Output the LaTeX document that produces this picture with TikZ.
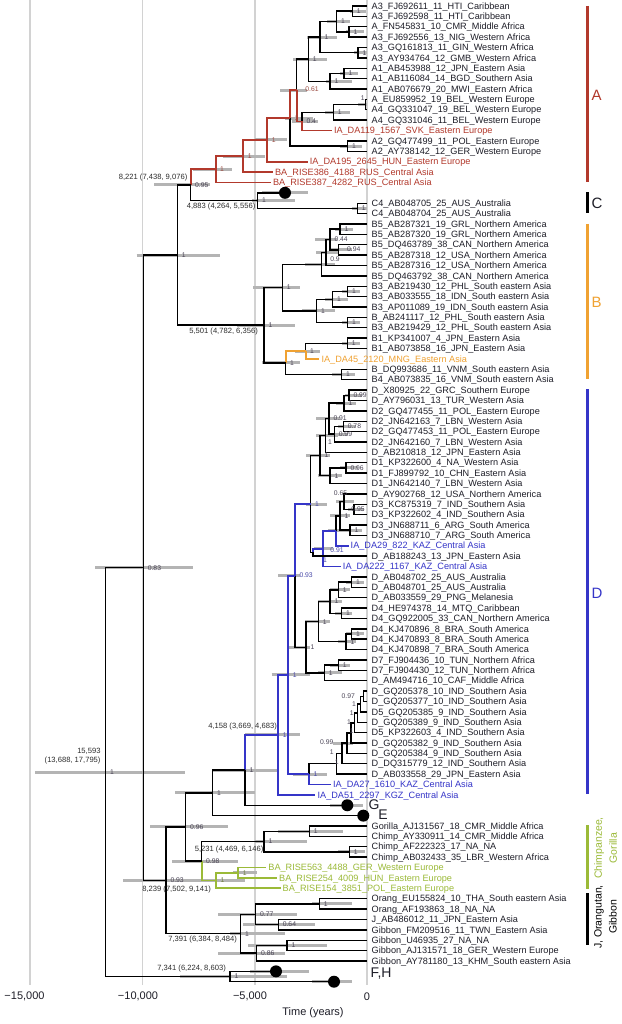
\documentclass[tikz,border=0pt]{standalone}
\usepackage{fontspec}
\setmainfont{Liberation Sans}
\usetikzlibrary{calc}
\definecolor{cRed}{HTML}{B2392C}
\definecolor{cOrange}{HTML}{F0A232}
\definecolor{cBlue}{HTML}{3535C8}
\definecolor{cGreen}{HTML}{9BBA38}
\definecolor{barGray}{HTML}{B4B4B4}
\definecolor{gridGray}{HTML}{D2D2D2}
\definecolor{tipText}{HTML}{1E1E28}
\definecolor{supCol}{HTML}{4A4456}
\definecolor{supRed}{HTML}{9A4A40}
\definecolor{supBlue}{HTML}{4848A8}
\definecolor{supGreen}{HTML}{6E7E40}
\definecolor{ageCol}{HTML}{2C2C2C}
\newcommand{\tipfnt}{\fontsize{9.15}{10}\selectfont}
\newcommand{\supfnt}{\fontsize{6.8}{7}\selectfont}
\newcommand{\agefnt}{\fontsize{7.6}{9}\selectfont}
\newcounter{lbl}
\newcommand{\mknode}[4]{\path (#3) -- (#4) coordinate[pos=0.5] (m#1);\path let \p1=(m#1) in (#2pt,\y1) coordinate (#1);}
\newcommand{\kids}[5]{\draw[#1] (#3) |- (#4);\draw[#2] (#3) |- (#5);}
\newcommand{\hpd}[3]{\draw[hpdbar] let \p1=(#1) in (#2pt,\y1) -- (#3pt,\y1);}
\newcommand{\slab}[3][supCol]{\stepcounter{lbl}\node[suplab,text=#1] (s\thelbl) at ([xshift=4pt]#2) {#3};}
\newcommand{\slabat}[4][supCol]{\stepcounter{lbl}\node[suplab,text=#1,anchor=center] (s\thelbl) at (#2,#3) {#4};}
\newcommand{\tipL}[2]{\node[tiplab] (L#1) at ([xshift=4.5pt,yshift=-3.2pt]t#1) {#2};}
\newcommand{\ancL}[3]{\node[tiplab, text=#2] (L#1) at ([xshift=2pt,yshift=-3.2pt]t#1) {#3};}
\begin{document}
\begin{tikzpicture}[x=1pt,y=-1pt,
  declare function={rowy(\n)=6+10.38*\n; agex(\a)=367-0.02246*\a;},
  br/.style={line width=1.4pt, draw=black},
  brR/.style={line width=1.8pt, draw=cRed},
  brO/.style={line width=1.8pt, draw=cOrange},
  brB/.style={line width=1.8pt, draw=cBlue},
  brG/.style={line width=1.8pt, draw=cGreen},
  hpdbar/.style={line width=3pt, draw=barGray},
  gridln/.style={line width=1.8pt, draw=gridGray},
  cladebar/.style={line width=3.5pt},
  tiplab/.style={anchor=base west, inner sep=0pt, font=\tipfnt, text=tipText},
  suplab/.style={anchor=west, inner sep=0.3pt, font=\supfnt},
  agelab/.style={inner sep=0pt, font=\agefnt, text=ageCol, anchor=east},
  dotst/.style={circle, fill=black, inner sep=0pt, minimum size=12pt},
  bigl/.style={inner sep=0pt, font=\fontsize{14}{16}\selectfont, text=tipText},
  cladel/.style={inner sep=0pt, anchor=west, font=\fontsize{15}{17}\selectfont},
  rotl/.style={inner sep=0pt, rotate=90, align=center, font=\fontsize{10.5}{15}\selectfont},
  axl/.style={inner sep=0pt, font=\fontsize{11}{13}\selectfont, text=tipText}]
\fill[white] (0,0) rectangle (621,1024);
\useasboundingbox (0,0) rectangle (621,1024);
% grid
\foreach \gx in {30.1,142.4,254.7,367} \draw[gridln] (\gx,0) -- (\gx,985);
% tips
\foreach \i in {0,...,11} \coordinate (t\i) at (367,{rowy(\i)});
\foreach \i in {13,14} \coordinate (t\i) at (367,{rowy(\i)});
\foreach \i in {19,...,33} \coordinate (t\i) at (367,{rowy(\i)});
\foreach \i in {35,...,51} \coordinate (t\i) at (367,{rowy(\i)});
\coordinate (t53) at (367,{rowy(53)});
\foreach \i in {55,...,74} \coordinate (t\i) at (367,{rowy(\i)});
\foreach \i in {79,...,82} \coordinate (t\i) at (367,{rowy(\i)});
\foreach \i in {86,...,92} \coordinate (t\i) at (367,{rowy(\i)});
\coordinate (t12) at ({agex(1567)},{rowy(12)});
\coordinate (t15) at ({agex(2645)},{rowy(15)});
\coordinate (t16) at ({agex(4188)},{rowy(16)});
\coordinate (t17) at ({agex(4282)},{rowy(17)});
\coordinate (t18) at (285,{rowy(18)});
\coordinate (t34) at ({agex(2120)},{rowy(34)});
\coordinate (t52) at ({agex(822)},{rowy(52)});
\coordinate (t54) at ({agex(1167)},{rowy(54)});
\coordinate (t75) at ({agex(1610)},{rowy(75)});
\coordinate (t76) at ({agex(2297)},{rowy(76)});
\coordinate (t77) at (347.3,{rowy(77)});
\coordinate (t78) at (363.3,{rowy(78)});
\coordinate (t83) at ({agex(4488)},{rowy(83)});
\coordinate (t84) at ({agex(4009)},{rowy(84)});
\coordinate (t85) at ({agex(3851)},{rowy(85)});
\coordinate (t93) at (276,{rowy(93)});
\coordinate (t94) at (334,{rowy(94)});
% internal nodes: A, C
\mknode{a01}{352.3}{t0}{t1}
\mknode{a23}{349}{t2}{t3}
\mknode{a03}{336.7}{a01}{a23}
\mknode{a45}{358}{t4}{t5}
\mknode{a05}{320}{a03}{a45}
\mknode{a67}{344}{t6}{t7}
\mknode{a68}{330}{a67}{t8}
\mknode{a08}{308.3}{a05}{a68}
\mknode{a910}{365.7}{t9}{t10}
\mknode{a911}{333.3}{a910}{t11}
\mknode{a04}{302}{a911}{t12}
\mknode{a061}{296.7}{a08}{a04}
\mknode{aA2}{347.7}{t13}{t14}
\mknode{aQ}{290}{a061}{aA2}
\mknode{a267}{267.3}{aQ}{t15}
\mknode{a243}{243.3}{a267}{t16}
\mknode{aR}{215.7}{a243}{t17}
\mknode{c45}{357.3}{t19}{t20}
\mknode{cN}{257.7}{t18}{c45}
\mknode{n095}{190.7}{aR}{cN}
% B
\mknode{b2122}{340}{t21}{t22}
\mknode{b2324}{338.3}{t23}{t24}
\mknode{b044}{330}{b2122}{b2324}
\mknode{b09}{326}{b044}{t25}
\mknode{b5}{321.7}{b09}{t26}
\mknode{b2728}{347.7}{t27}{t28}
\mknode{b2729}{332.7}{b2728}{t29}
\mknode{b3031}{347.7}{t30}{t31}
\mknode{b3}{316.7}{b2729}{b3031}
\mknode{b53}{282.3}{b5}{b3}
\mknode{b1}{347.3}{t32}{t33}
\mknode{bDA}{305.7}{b1}{t34}
\mknode{b4}{341.7}{t35}{t36}
\mknode{b14}{285.7}{bDA}{b4}
\mknode{bB}{264}{b53}{b14}
\mknode{n1}{177.3}{n095}{bB}
% D
\mknode{d3738}{349}{t37}{t38}
\mknode{d3739}{344}{d3738}{t39}
\mknode{d4041}{343.3}{t40}{t41}
\mknode{d4042}{334.3}{d4041}{t42}
\mknode{d091}{329}{d3739}{d4042}
\mknode{d0943}{325.5}{d091}{t43}
\mknode{d4445}{346}{t44}{t45}
\mknode{d4446}{330}{d4445}{t46}
\mknode{dD12}{320}{d0943}{d4446}
\mknode{d4849}{354}{t48}{t49}
\mknode{d4749}{344}{t47}{d4849}
\mknode{d5051}{350}{t50}{t51}
\mknode{d4751}{340}{d4749}{d5051}
\mknode{dDA29}{336}{d4751}{t52}
\mknode{dX}{323.3}{dDA29}{t54}
\mknode{dY}{313}{dX}{t53}
\mknode{dG}{310.7}{dD12}{dY}
\mknode{d5556}{351.7}{t55}{t56}
\mknode{d5557}{338.3}{d5556}{t57}
\mknode{d5859}{341.7}{t58}{t59}
\mknode{d5559}{330}{d5557}{d5859}
\mknode{d6061}{351.7}{t60}{t61}
\mknode{d6062}{346}{d6061}{t62}
\mknode{dD4}{318.3}{d5559}{d6062}
\mknode{d6364}{338.3}{t63}{t64}
\mknode{d6365}{324.3}{d6364}{t65}
\mknode{dD47}{306}{dD4}{d6365}
\mknode{d093}{295}{dG}{dD47}
\mknode{d6667}{363.5}{t66}{t67}
\mknode{d6668}{360.5}{d6667}{t68}
\mknode{d6669}{357.5}{d6668}{t69}
\mknode{d6670}{354.5}{d6669}{t70}
\mknode{d6671}{351}{d6670}{t71}
\mknode{d6672}{347}{d6671}{t72}
\mknode{d6673}{342}{d6672}{t73}
\mknode{d6674}{336.5}{d6673}{t74}
\mknode{dD5A}{309}{d6674}{t75}
\mknode{dDA27}{288.3}{d093}{dD5A}
\mknode{dRoot}{278.3}{dDA27}{t76}
\mknode{dDG}{245}{dRoot}{t77}
\mknode{n2127}{212.7}{dDG}{t78}
% lower
\mknode{gc1}{309.3}{t79}{t80}
\mknode{gc2}{349.3}{t81}{t82}
\mknode{gc}{264}{gc1}{gc2}
\mknode{g1}{238.3}{t83}{t84}
\mknode{g2}{216}{g1}{t85}
\mknode{n098}{201.7}{gc}{g2}
\mknode{n096}{185.7}{n2127}{n098}
\mknode{o1}{319.3}{t86}{t87}
\mknode{o2}{278.3}{t88}{t89}
\mknode{o077}{255.7}{o1}{o2}
\mknode{o3}{287}{t90}{t91}
\mknode{o086}{256.7}{o3}{t92}
\mknode{og}{240.7}{o077}{o086}
\mknode{n093b}{166}{n096}{og}
\mknode{n083}{143.3}{n1}{n093b}
\mknode{fh}{230}{t93}{t94}
\mknode{root}{105.7}{n083}{fh}
% HPD bars
\hpd{a01}{350}{366}\hpd{a23}{346}{364}\hpd{a03}{327}{350}\hpd{a45}{354}{367}
\hpd{a05}{307}{337}\hpd{a67}{340}{358}\hpd{a68}{326}{352}\hpd{a08}{293}{327}
\hpd{a910}{358}{367}\hpd{a911}{325}{350}\hpd{a04}{292}{318}\hpd{a061}{280}{307}
\hpd{aA2}{340}{362}\hpd{aQ}{285}{313}\hpd{a267}{255}{287}\hpd{a243}{223}{265}
\hpd{aR}{193}{232}\hpd{c45}{352}{367}\hpd{cN}{252}{295}\hpd{n095}{154}{210}
\hpd{t18}{262}{308}
\hpd{b2122}{335}{353}\hpd{b2324}{330}{352}\hpd{b044}{315}{337}\hpd{b09}{316}{338}
\hpd{b5}{305}{335}\hpd{b2728}{342}{360}\hpd{b2729}{325}{348}\hpd{b3031}{342}{360}
\hpd{b3}{302}{335}\hpd{b53}{253}{300}\hpd{b1}{342}{360}\hpd{bDA}{295}{320}
\hpd{b4}{332}{355}\hpd{b14}{262}{300}\hpd{bB}{236.7}{295}\hpd{n1}{136.7}{220}
\hpd{d3738}{345}{362}\hpd{d3739}{336}{356}\hpd{d4041}{338}{356}\hpd{d4042}{328}{348}
\hpd{d091}{316}{340}\hpd{d0943}{316}{338}\hpd{d4445}{340}{358}\hpd{d4446}{318}{342}
\hpd{dD12}{306}{330}\hpd{d4849}{348}{364}\hpd{d4749}{336}{354}\hpd{d5051}{344}{362}
\hpd{d4751}{330}{350}\hpd{dDA29}{328}{345}\hpd{dX}{314}{333}\hpd{dG}{306}{327}
\hpd{d5556}{346}{364}\hpd{d5557}{330}{350}\hpd{d5859}{335}{352}\hpd{d5559}{318}{342}
\hpd{d6061}{346}{364}\hpd{d6062}{338}{356}\hpd{dD4}{305}{330}\hpd{d6364}{330}{350}
\hpd{d6365}{318}{342}\hpd{dD47}{288}{310}\hpd{d093}{278}{300}\hpd{d6672}{333}{353}
\hpd{dD5A}{293}{327}\hpd{dDA27}{271.7}{310}\hpd{dRoot}{245}{300}\hpd{dDG}{213}{278}
\hpd{t77}{330}{363}\hpd{n2127}{175}{255}
\hpd{gc1}{278}{343}\hpd{gc2}{338}{365}\hpd{gc}{255}{307}\hpd{g1}{233}{257}
\hpd{g2}{190}{245}\hpd{n098}{172}{238}\hpd{n096}{150}{228}\hpd{o1}{312}{352}
\hpd{o2}{243}{315}\hpd{o077}{218}{297}\hpd{o3}{248}{327}\hpd{o086}{218}{285}
\hpd{og}{230}{285}\hpd{n093b}{123}{190}\hpd{n083}{95}{193.3}\hpd{fh}{180}{287}
\hpd{t93}{250}{309}\hpd{t94}{312}{352}\hpd{root}{35}{185}
% edges A, C
\kids{br}{br}{a01}{t0}{t1}
\kids{br}{br}{a23}{t2}{t3}
\kids{br}{br}{a03}{a01}{a23}
\kids{br}{br}{a45}{t4}{t5}
\kids{br}{br}{a05}{a03}{a45}
\kids{br}{br}{a67}{t6}{t7}
\kids{br}{br}{a68}{a67}{t8}
\kids{br}{br}{a08}{a05}{a68}
\kids{br}{br}{a910}{t9}{t10}
\kids{br}{br}{a911}{a910}{t11}
\kids{br}{brR}{a04}{a911}{t12}
\kids{br}{brR}{a061}{a08}{a04}
\kids{br}{br}{aA2}{t13}{t14}
\kids{brR}{br}{aQ}{a061}{aA2}
\kids{brR}{brR}{a267}{aQ}{t15}
\kids{brR}{brR}{a243}{a267}{t16}
\kids{brR}{brR}{aR}{a243}{t17}
\kids{br}{br}{c45}{t19}{t20}
\kids{br}{br}{cN}{t18}{c45}
\kids{brR}{br}{n095}{aR}{cN}
% B
\kids{br}{br}{b2122}{t21}{t22}
\kids{br}{br}{b2324}{t23}{t24}
\kids{br}{br}{b044}{b2122}{b2324}
\kids{br}{br}{b09}{b044}{t25}
\kids{br}{br}{b5}{b09}{t26}
\kids{br}{br}{b2728}{t27}{t28}
\kids{br}{br}{b2729}{b2728}{t29}
\kids{br}{br}{b3031}{t30}{t31}
\kids{br}{br}{b3}{b2729}{b3031}
\kids{br}{br}{b53}{b5}{b3}
\kids{br}{br}{b1}{t32}{t33}
\kids{br}{brO}{bDA}{b1}{t34}
\kids{br}{br}{b4}{t35}{t36}
\kids{brO}{br}{b14}{bDA}{b4}
\kids{br}{br}{bB}{b53}{b14}
\kids{br}{br}{n1}{n095}{bB}
% D
\kids{br}{br}{d3738}{t37}{t38}
\kids{br}{br}{d3739}{d3738}{t39}
\kids{br}{br}{d4041}{t40}{t41}
\kids{br}{br}{d4042}{d4041}{t42}
\kids{br}{br}{d091}{d3739}{d4042}
\kids{br}{br}{d0943}{d091}{t43}
\kids{br}{br}{d4445}{t44}{t45}
\kids{br}{br}{d4446}{d4445}{t46}
\kids{br}{br}{dD12}{d0943}{d4446}
\kids{br}{br}{d4849}{t48}{t49}
\kids{br}{br}{d4749}{t47}{d4849}
\kids{br}{br}{d5051}{t50}{t51}
\kids{br}{br}{d4751}{d4749}{d5051}
\kids{br}{brB}{dDA29}{d4751}{t52}
\kids{brB}{brB}{dX}{dDA29}{t54}
\kids{brB}{br}{dY}{dX}{t53}
\kids{br}{br}{dG}{dD12}{dY}
\kids{br}{br}{d5556}{t55}{t56}
\kids{br}{br}{d5557}{d5556}{t57}
\kids{br}{br}{d5859}{t58}{t59}
\kids{br}{br}{d5559}{d5557}{d5859}
\kids{br}{br}{d6061}{t60}{t61}
\kids{br}{br}{d6062}{d6061}{t62}
\kids{br}{br}{dD4}{d5559}{d6062}
\kids{br}{br}{d6364}{t63}{t64}
\kids{br}{br}{d6365}{d6364}{t65}
\kids{br}{br}{dD47}{dD4}{d6365}
\kids{brB}{br}{d093}{dG}{dD47}
\kids{br}{br}{d6667}{t66}{t67}
\kids{br}{br}{d6668}{d6667}{t68}
\kids{br}{br}{d6669}{d6668}{t69}
\kids{br}{br}{d6670}{d6669}{t70}
\kids{br}{br}{d6671}{d6670}{t71}
\kids{br}{br}{d6672}{d6671}{t72}
\kids{br}{br}{d6673}{d6672}{t73}
\kids{br}{br}{d6674}{d6673}{t74}
\kids{br}{brB}{dD5A}{d6674}{t75}
\kids{brB}{brB}{dDA27}{d093}{dD5A}
\kids{brB}{brB}{dRoot}{dDA27}{t76}
\kids{brB}{br}{dDG}{dRoot}{t77}
\kids{br}{br}{n2127}{dDG}{t78}
% lower
\kids{br}{br}{gc1}{t79}{t80}
\kids{br}{br}{gc2}{t81}{t82}
\kids{br}{br}{gc}{gc1}{gc2}
\kids{brG}{brG}{g1}{t83}{t84}
\kids{brG}{brG}{g2}{g1}{t85}
\kids{br}{brG}{n098}{gc}{g2}
\kids{br}{br}{n096}{n2127}{n098}
\kids{br}{br}{o1}{t86}{t87}
\kids{br}{br}{o2}{t88}{t89}
\kids{br}{br}{o077}{o1}{o2}
\kids{br}{br}{o3}{t90}{t91}
\kids{br}{br}{o086}{o3}{t92}
\kids{br}{br}{og}{o077}{o086}
\kids{br}{br}{n093b}{n096}{og}
\kids{br}{br}{n083}{n1}{n093b}
\kids{br}{br}{fh}{t93}{t94}
\kids{br}{br}{root}{n083}{fh}
% dots
\node[dotst] (dotC) at (t18) {};
\node[dotst] (dotG) at (t77) {};
\node[dotst] (dotE) at (t78) {};
\node[dotst] (dotF) at (t93) {};
\node[dotst] (dotH) at (t94) {};
\node[bigl] (labG) at (374,805) {G};
\node[bigl] (labE) at (383,815) {E};
\node[bigl] (labFH) at (381,974) {F,H};
% support labels
\slab{a01}{1}\slab{a23}{1}\slab{a03}{1}\slab{a45}{1}\slab{a05}{1}\slab{a67}{1}\slab{a68}{1}\slab{a08}{1}
\slabat{362.7}{98}{1}\slab{a911}{1}\slab{a04}{0.4}\slabat[supRed]{312}{89.5}{0.61}\slab{aA2}{1}
\slab[supRed]{aQ}{1}\slab[supRed]{a267}{1}\slab[supRed]{a243}{1}\slab[supRed]{aR}{1}
\slab{c45}{1}\slab{cN}{1}\slab{n095}{0.95}\slab{n1}{1}
\slab{b2122}{1}\slabat{353.8}{249.3}{0.94}\slab{b044}{0.44}\slabat{335}{259}{0.9}
\slab{b2728}{1}\slab{b2729}{1}\slab{b3031}{1}\slab{b3}{1}\slab{b53}{1}\slab{b1}{1}
\slab{bDA}{1}\slab{b4}{1}\slab{b14}{1}\slab{bB}{1}
\slab{d3738}{0.99}\slab{d3739}{1}\slab{d4041}{0.78}\slab{d4042}{0.99}\slab{d091}{0.91}
\slabat{330}{441.7}{1}\slab{d4445}{0.96}\slab{d4446}{1}\slab{dD12}{1}
\slabat{340.5}{493.5}{0.65}\slabat{358}{509}{0.95}\slab{d5051}{1}\slab{d4751}{1}
\slabat[supBlue]{337}{550}{0.91}\slabat[supBlue]{325}{560}{1}\slab[supBlue]{dG}{1}
\slab{d5556}{1}\slab{d5557}{1}\slab{d5859}{1}\slab{d5559}{1}\slab{d6061}{1}\slab{d6062}{1}
\slab{dD4}{1}\slab{d6364}{1}\slab{d6365}{1}\slab{dD47}{1}\slab[supBlue]{d093}{0.93}
\slabat{348.3}{695.7}{0.97}\slabat{354}{704.3}{1}\slabat{351.7}{712.7}{1}\slabat{349}{721.7}{1}
\slabat{351.7}{730.7}{1}\slabat{326.7}{741.7}{0.99}\slabat{331.7}{751.7}{1}\slabat{336.7}{761.7}{1}
\slab[supBlue]{dD5A}{1}\slab[supBlue]{dDA27}{1}\slab[supBlue]{dRoot}{1}\slab{dDG}{1}\slab{n2127}{1}
\slab{gc1}{1}\slab{gc2}{1}\slab{gc}{1}\slab[supGreen]{g1}{1}\slab[supGreen]{g2}{1}
\slab{n098}{0.98}\slab{n096}{0.96}\slab{o1}{1}\slab{o2}{0.64}\slab{o077}{0.77}\slab{o3}{1}
\slab{o086}{0.86}\slab{og}{1}\slab{n093b}{0.93}\slab{n083}{0.83}\slab{fh}{1}\slab{root}{1}
% age labels
\node[agelab] (age1) at (187.5,177.3) {8,221 (7,438, 9,076)};
\node[agelab] (age2) at (255.5,206.7) {4,883 (4,264, 5,556)};
\node[agelab] (age3) at (258,331.7) {5,501 (4,782, 6,356)};
\node[agelab] (age4) at (277,726.7) {4,158 (3,669, 4,683)};
\node[agelab] (age5) at (100.7,751) {15,593};
\node[agelab] (age6) at (100.7,760.7) {(13,688, 17,795)};
\node[agelab] (age7) at (263.5,850) {5,231 (4,469, 6,146)};
\node[agelab] (age8) at (211,889.3) {8,239 (7,502, 9,141)};
\node[agelab] (age9) at (237,940) {7,391 (6,384, 8,484)};
\node[agelab] (age10) at (226,968.3) {7,341 (6,224, 8,603)};
% tip labels
\tipL{0}{A3\_FJ692611\_11\_HTI\_Caribbean}
\tipL{1}{A3\_FJ692598\_11\_HTI\_Caribbean}
\tipL{2}{A\_FN545831\_10\_CMR\_Middle Africa}
\tipL{3}{A3\_FJ692556\_13\_NIG\_Western Africa}
\tipL{4}{A3\_GQ161813\_11\_GIN\_Western Africa}
\tipL{5}{A3\_AY934764\_12\_GMB\_Western Africa}
\tipL{6}{A1\_AB453988\_12\_JPN\_Eastern Asia}
\tipL{7}{A1\_AB116084\_14\_BGD\_Southern Asia}
\tipL{8}{A1\_AB076679\_20\_MWI\_Eastern Africa}
\tipL{9}{A\_EU859952\_19\_BEL\_Western Europe}
\tipL{10}{A4\_GQ331047\_19\_BEL\_Western Europe}
\tipL{11}{A4\_GQ331046\_11\_BEL\_Western Europe}
\ancL{12}{cRed}{IA\_DA119\_1567\_SVK\_Eastern Europe}
\tipL{13}{A2\_GQ477499\_11\_POL\_Eastern Europe}
\tipL{14}{A2\_AY738142\_12\_GER\_Western Europe}
\ancL{15}{cRed}{IA\_DA195\_2645\_HUN\_Eastern Europe}
\ancL{16}{cRed}{BA\_RISE386\_4188\_RUS\_Central Asia}
\ancL{17}{cRed}{BA\_RISE387\_4282\_RUS\_Central Asia}
\tipL{19}{C4\_AB048705\_25\_AUS\_Australia}
\tipL{20}{C4\_AB048704\_25\_AUS\_Australia}
\tipL{21}{B5\_AB287321\_19\_GRL\_Northern America}
\tipL{22}{B5\_AB287320\_19\_GRL\_Northern America}
\tipL{23}{B5\_DQ463789\_38\_CAN\_Northern America}
\tipL{24}{B5\_AB287318\_12\_USA\_Northern America}
\tipL{25}{B5\_AB287316\_12\_USA\_Northern America}
\tipL{26}{B5\_DQ463792\_38\_CAN\_Northern America}
\tipL{27}{B3\_AB219430\_12\_PHL\_South eastern Asia}
\tipL{28}{B3\_AB033555\_18\_IDN\_South eastern Asia}
\tipL{29}{B3\_AP011089\_19\_IDN\_South eastern Asia}
\tipL{30}{B\_AB241117\_12\_PHL\_South eastern Asia}
\tipL{31}{B3\_AB219429\_12\_PHL\_South eastern Asia}
\tipL{32}{B1\_KP341007\_4\_JPN\_Eastern Asia}
\tipL{33}{B1\_AB073858\_16\_JPN\_Eastern Asia}
\ancL{34}{cOrange}{IA\_DA45\_2120\_MNG\_Eastern Asia}
\tipL{35}{B\_DQ993686\_11\_VNM\_South eastern Asia}
\tipL{36}{B4\_AB073835\_16\_VNM\_South eastern Asia}
\tipL{37}{D\_X80925\_22\_GRC\_Southern Europe}
\tipL{38}{D\_AY796031\_13\_TUR\_Western Asia}
\tipL{39}{D2\_GQ477455\_11\_POL\_Eastern Europe}
\tipL{40}{D2\_JN642163\_7\_LBN\_Western Asia}
\tipL{41}{D2\_GQ477453\_11\_POL\_Eastern Europe}
\tipL{42}{D2\_JN642160\_7\_LBN\_Western Asia}
\tipL{43}{D\_AB210818\_12\_JPN\_Eastern Asia}
\tipL{44}{D1\_KP322600\_4\_NA\_Western Asia}
\tipL{45}{D1\_FJ899792\_10\_CHN\_Eastern Asia}
\tipL{46}{D1\_JN642140\_7\_LBN\_Western Asia}
\tipL{47}{D\_AY902768\_12\_USA\_Northern America}
\tipL{48}{D3\_KC875319\_7\_IND\_Southern Asia}
\tipL{49}{D3\_KP322602\_4\_IND\_Southern Asia}
\tipL{50}{D3\_JN688711\_6\_ARG\_South America}
\tipL{51}{D3\_JN688710\_7\_ARG\_South America}
\ancL{52}{cBlue}{IA\_DA29\_822\_KAZ\_Central Asia}
\tipL{53}{D\_AB188243\_13\_JPN\_Eastern Asia}
\ancL{54}{cBlue}{IA\_DA222\_1167\_KAZ\_Central Asia}
\tipL{55}{D\_AB048702\_25\_AUS\_Australia}
\tipL{56}{D\_AB048701\_25\_AUS\_Australia}
\tipL{57}{D\_AB033559\_29\_PNG\_Melanesia}
\tipL{58}{D4\_HE974378\_14\_MTQ\_Caribbean}
\tipL{59}{D4\_GQ922005\_33\_CAN\_Northern America}
\tipL{60}{D4\_KJ470896\_8\_BRA\_South America}
\tipL{61}{D4\_KJ470893\_8\_BRA\_South America}
\tipL{62}{D4\_KJ470898\_7\_BRA\_South America}
\tipL{63}{D7\_FJ904436\_10\_TUN\_Northern Africa}
\tipL{64}{D7\_FJ904430\_12\_TUN\_Northern Africa}
\tipL{65}{D\_AM494716\_10\_CAF\_Middle Africa}
\tipL{66}{D\_GQ205378\_10\_IND\_Southern Asia}
\tipL{67}{D\_GQ205377\_10\_IND\_Southern Asia}
\tipL{68}{D5\_GQ205385\_9\_IND\_Southern Asia}
\tipL{69}{D\_GQ205389\_9\_IND\_Southern Asia}
\tipL{70}{D5\_KP322603\_4\_IND\_Southern Asia}
\tipL{71}{D\_GQ205382\_9\_IND\_Southern Asia}
\tipL{72}{D\_GQ205384\_9\_IND\_Southern Asia}
\tipL{73}{D\_DQ315779\_12\_IND\_Southern Asia}
\tipL{74}{D\_AB033558\_29\_JPN\_Eastern Asia}
\ancL{75}{cBlue}{IA\_DA27\_1610\_KAZ\_Central Asia}
\ancL{76}{cBlue}{IA\_DA51\_2297\_KGZ\_Central Asia}
\tipL{79}{Gorilla\_AJ131567\_18\_CMR\_Middle Africa}
\tipL{80}{Chimp\_AY330911\_14\_CMR\_Middle Africa}
\tipL{81}{Chimp\_AF222323\_17\_NA\_NA}
\tipL{82}{Chimp\_AB032433\_35\_LBR\_Western Africa}
\ancL{83}{cGreen}{BA\_RISE563\_4488\_GER\_Western Europe}
\ancL{84}{cGreen}{BA\_RISE254\_4009\_HUN\_Eastern Europe}
\ancL{85}{cGreen}{BA\_RISE154\_3851\_POL\_Eastern Europe}
\tipL{86}{Orang\_EU155824\_10\_THA\_South eastern Asia}
\tipL{87}{Orang\_AF193863\_18\_NA\_NA}
\tipL{88}{J\_AB486012\_11\_JPN\_Eastern Asia}
\tipL{89}{Gibbon\_FM209516\_11\_TWN\_Eastern Asia}
\tipL{90}{Gibbon\_U46935\_27\_NA\_NA}
\tipL{91}{Gibbon\_AJ131571\_18\_GER\_Western Europe}
\tipL{92}{Gibbon\_AY781180\_13\_KHM\_South eastern Asia}
% clade bars
\draw[cladebar, cRed] (587.3,6) -- (587.3,181.7);
\draw[cladebar, black] (587.3,192.3) -- (587.3,213.3);
\draw[cladebar, cOrange] (587.3,224) -- (587.3,379);
\draw[cladebar, cBlue] (587.3,389) -- (587.3,794.3);
\draw[cladebar, cGreen] (587.3,825) -- (587.3,889);
\draw[cladebar, black] (587.3,893.3) -- (587.3,945);
\node[cladel, text=cRed] (cA) at (591.5,95) {A};
\node[cladel, text=tipText] (cC) at (591.5,203) {C};
\node[cladel, text=cOrange] (cB) at (591.5,302) {B};
\node[cladel, text=cBlue] (cD) at (591.5,593.3) {D};
\node[rotl, text=cGreen] (cCG) at (605.5,848) {Chimpanzee,\\Gorilla};
\node[rotl, text=black] (cJO) at (605.5,917) {J, Orangutan,\\Gibbon};
% axis
\node[axl] (ax1) at (24.5,996.7) {−15,000};
\node[axl] (ax2) at (138,996.7) {−10,000};
\node[axl] (ax3) at (250,996.7) {−5,000};
\node[axl] (ax4) at (367,996.7) {0};
\node[axl] (axt) at (313,1013) {Time (years)};
\end{tikzpicture}
\end{document}
